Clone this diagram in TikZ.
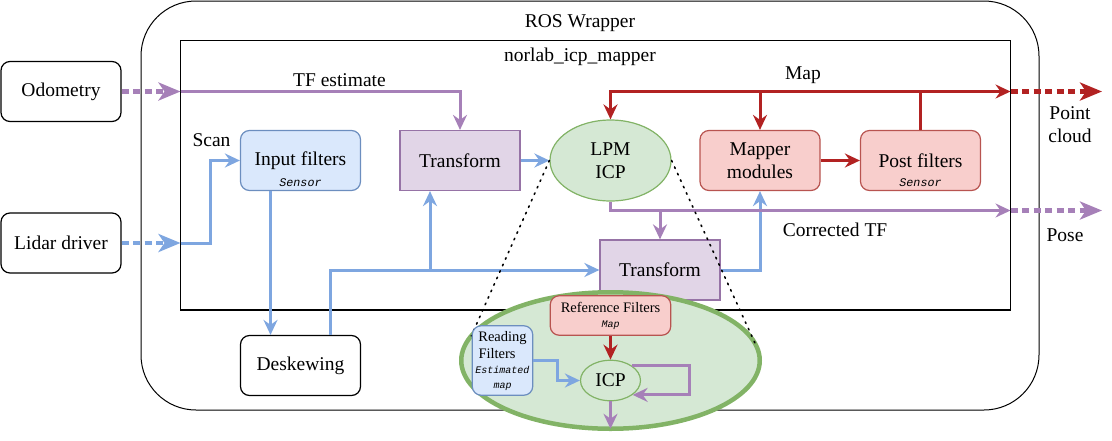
\documentclass[tikz,border=0pt]{standalone}
\usepackage{fontspec}
\setmainfont{Liberation Serif}
\setmonofont{Liberation Mono}
\usepackage{tikz}
\usetikzlibrary{arrows.meta, shapes.geometric}

\definecolor{bluefill}{HTML}{DAE8FC}
\definecolor{blueline}{HTML}{6C8EBF}
\definecolor{bluearr}{HTML}{7EA6E0}
\definecolor{purpfill}{HTML}{E1D5E7}
\definecolor{purpline}{HTML}{9673A6}
\definecolor{purparr}{HTML}{A680B8}
\definecolor{redfill}{HTML}{F8CECC}
\definecolor{redline}{HTML}{B85450}
\definecolor{redarr}{RGB}{178,34,34}
\definecolor{greenfill}{HTML}{D5E8D4}
\definecolor{greenline}{HTML}{82B366}

\newcommand{\modefont}[1]{\fontsize{#1}{#1}\selectfont\ttfamily\itshape}

\begin{document}
\begin{tikzpicture}[x=1pt, y=-1pt,
  font=\fontsize{19.5}{23.5}\selectfont,
  box/.style={draw, line width=1.2pt, rounded corners=9pt, minimum width=120pt, minimum height=60pt, inner sep=2pt, align=center},
  bluebox/.style={box, fill=bluefill, draw=blueline},
  redbox/.style={box, fill=redfill, draw=redline},
  tfbox/.style={box, sharp corners, fill=purpfill, draw=purpline},
  lpmshape/.style={ellipse, draw=greenline, fill=greenfill, line width=1.2pt, inner sep=0pt, align=center},
  modetag/.style={inner sep=0pt, font=\modefont{11.7}},
  arr/.style={line width=3pt, -{Stealth[length=15pt, width=14pt, inset=5pt]}},
  dotarr/.style={line width=4.5pt, dash pattern=on 7pt off 4.5pt, -{Stealth[length=22pt, width=18pt, inset=6pt]}},
  zoomline/.style={line width=1.6pt, dash pattern=on 1.6pt off 5.5pt, line cap=round}]
  \useasboundingbox (0,0) rectangle (1112,440);

  % Frames
  \node[draw, line width=1pt, rounded corners=55pt, minimum width=898pt, minimum height=409pt] (wrapper) at (590,205.5) {};
  \node (wraplbl) at (580,23) {ROS Wrapper};
  \node[draw, line width=1.5pt, minimum width=830pt, minimum height=269.5pt] (icpmapper) at (595.5,175.25) {};
  \node (mapperlbl) at (580,57) {norlab\_icp\_mapper};

  % Sources
  \node[box] (odom) at (61,91.5) {Odometry};
  \node[box] (lidar) at (61,243) {Lidar driver};

  % Pipeline
  \node[bluebox] (inflt) at (300.5,160.5) {Input filters};
  \node[modetag, anchor=base] (inflttag) at ([yshift=4.5pt]inflt.south) {Sensor};
  \node[tfbox] (tfa) at (460,160.5) {Transform};
  \node[lpmshape, minimum width=121pt, minimum height=81pt] (lpm) at (610.5,160.5) {LPM\\ICP};
  \node[redbox] (mapper) at (760,160.5) {Mapper\\modules};
  \node[redbox] (post) at (920.5,160.5) {Post filters};
  \node[modetag, anchor=base] (posttag) at ([yshift=4.5pt]post.south) {Sensor};
  \node[tfbox] (tfb) at (660,270) {Transform};
  \node[box] (desk) at (300.5,365.5) {Deskewing};

  % Odometry -> TF estimate
  \coordinate (tfin) at (180.5,91.5);
  \draw[dotarr, purparr] (odom) -- (tfin);
  \draw[arr, purparr] (tfin) -| (tfa);
  \node (tflbl) at (339.5,80.5) {TF estimate};

  % Lidar -> scan
  \coordinate (lidin) at (180.5,243);
  \draw[dotarr, bluearr] (lidar) -- (lidin);
  \draw[arr, bluearr] (lidin) -- ++(30,0) |- (inflt);
  \node (scanlbl) at (211.5,140) {Scan};
  \draw[arr, bluearr] ([xshift=-30pt]inflt.south) -- ([xshift=-30pt]desk.north);
  \coordinate (deskup) at ([xshift=29.5pt]desk.north);
  \coordinate (tfaup) at ([xshift=-30pt]tfa.south);
  \draw[arr, bluearr] (deskup) |- (tfb);
  \draw[arr, bluearr] (tfaup |- tfb) -- (tfaup);
  \draw[arr, bluearr] (tfa) -- (lpm);
  \draw[arr, bluearr] (tfb) -| (mapper);

  % Map output
  \coordinate (mapout) at (1010.5,91.5);
  \coordinate (mapend) at (1102,91.5);
  \draw[arr, redarr] (post) |- (mapout);
  \draw[arr, redarr] (post |- mapout) -| (lpm);
  \draw[arr, redarr] (mapper |- mapout) -- (mapper);
  \draw[arr, redarr] (mapper) -- (post);
  \draw[dotarr, redarr] (mapout) -- (mapend);
  \node (maplbl) at (803,75.5) {Map};
  \node[align=center] (cloudlbl) at (1070,124.5) {Point\\cloud};

  % Pose output
  \coordinate (poseout) at (1010.5,210.5);
  \coordinate (poseend) at (1102,210.5);
  \draw[arr, purparr] (lpm) |- (poseout);
  \draw[arr, purparr] (tfb |- poseout) -- (tfb);
  \draw[dotarr, purparr] (poseout) -- (poseend);
  \node (corrlbl) at (835,229.5) {Corrected TF};
  \node (poselbl) at (1065,235) {Pose};

  % Zoom on LPM ICP
  \node[ellipse, draw=greenline, fill=greenfill, line width=4.5pt, outer sep=0pt, minimum width=298.5pt, minimum height=136.5pt] (zoomell) at (610.5,360.5) {};
  \draw[zoomline] (lpm.west) -- (zoomell.170);
  \draw[zoomline] (lpm.east) -- (zoomell.6);
  \node[redbox, minimum width=120.5pt, minimum height=39.5pt, inner sep=0pt, font=\fontsize{14.5}{18}\selectfont] (reff) at (610.5,315.5) {Reference Filters\\[-3pt]{\modefont{10}Map}};
  \node[bluebox, minimum width=60.5pt, minimum height=69.5pt, inner sep=0pt, font=\fontsize{14.5}{18}\selectfont] (readf) at (502.5,360.5) {Reading\\\makebox[48pt][l]{Filters}\\[-3.5pt]{\modefont{10}Estimated}\\[-3.5pt]{\modefont{10}map}};
  \node[lpmshape, minimum width=60pt, minimum height=40.5pt] (icp) at (610.5,380.5) {ICP};
  \draw[arr, redarr] (reff) -- (icp);
  \draw[arr, bluearr] (readf.east) -- ++(24,0) |- (icp);
  \draw[arr, purparr] (icp.35) -- ++(58,0) |- (icp.-33);
  \draw[arr, purparr] (icp) -- (zoomell.south);
\end{tikzpicture}
\end{document}
